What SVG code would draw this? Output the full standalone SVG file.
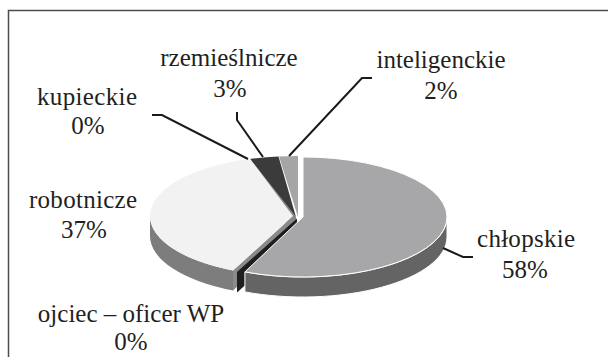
<svg xmlns="http://www.w3.org/2000/svg" width="608" height="357" viewBox="0 0 608 357">
<style>
.lbl{font-family:"Liberation Serif","Times New Roman",serif;font-size:25px;fill:#231f20;text-anchor:middle}
.lead{fill:none;stroke:#1a1a1a;stroke-width:2}
.frame{fill:none;stroke:#4d4d4d;stroke-width:1.5}
</style>
<rect class="frame" x="8.5" y="10.5" width="640" height="400"/>
<g id="pie">
<g id="inteligenckie">
<path d="M298,217 L279,156.5 A143,60 0 0 1 298,156 Z" fill="#a5a5a5"/>
</g>
<g id="rzemieslnicze">
<path d="M250,159 L296,217 L296,237 L250,179 Z" fill="#858585"/>
<path d="M296,217 L250,159 A143,60 0 0 1 278.5,156.4 Z" fill="#3b3b3b"/>
</g>
<g id="robotnicze">
<path d="M233,270.5 A143,60 0 0 1 150,216 L150,236 A143,60 0 0 0 233,290.5 Z" fill="#7d7d7d"/>
<path d="M293,216 L233,270.5 L233,290.5 L293,236 Z" fill="#8a8a8a"/>
<path d="M293,216 L233,270.5 A143,60 0 0 1 250,158.8 Z" fill="#f2f2f2"/>
</g>
<g id="ojciec">
<path d="M297,218.5 L237,272 L237,292.5 L297,238.5 Z" fill="#1e1e1e"/>
</g>
<g id="chlopskie">
<path d="M447,217 A144,60 0 0 1 244.9,271.9 L244.9,291.9 A144,60 0 0 0 447,237 Z" fill="#646464" stroke="#ffffff" stroke-width="1"/>
<path d="M303,217 L303,157 A144,60 0 1 1 244.9,271.9 Z" fill="#a7a7a9" stroke="#ffffff" stroke-width="1"/>
</g>
</g>
<g id="connectors">
<path class="lead" d="M152,115 H162 L248,159"/>
<path class="lead" d="M237,112 V120 L263,157"/>
<path class="lead" d="M372,78 H362 L289,156"/>
<path class="lead" d="M443,248 L463,257 H473"/>
</g>
<g id="label-rzemieslnicze">
<text class="lbl" x="229" y="66">rzemieślnicze</text>
<text class="lbl" x="230" y="97">3%</text>
</g>
<g id="label-inteligenckie">
<text class="lbl" x="441" y="68">inteligenckie</text>
<text class="lbl" x="441" y="99">2%</text>
</g>
<g id="label-kupieckie">
<text class="lbl" x="87" y="105" textLength="100">kupieckie</text>
<text class="lbl" x="88" y="134">0%</text>
</g>
<g id="label-robotnicze">
<text class="lbl" x="83" y="208" textLength="108">robotnicze</text>
<text class="lbl" x="84" y="238">37%</text>
</g>
<g id="label-chlopskie">
<text class="lbl" x="526" y="247" textLength="98">chłopskie</text>
<text class="lbl" x="525" y="278">58%</text>
</g>
<g id="label-ojciec">
<text class="lbl" x="131" y="322">ojciec – oficer WP</text>
<text class="lbl" x="131" y="350">0%</text>
</g>
</svg>
